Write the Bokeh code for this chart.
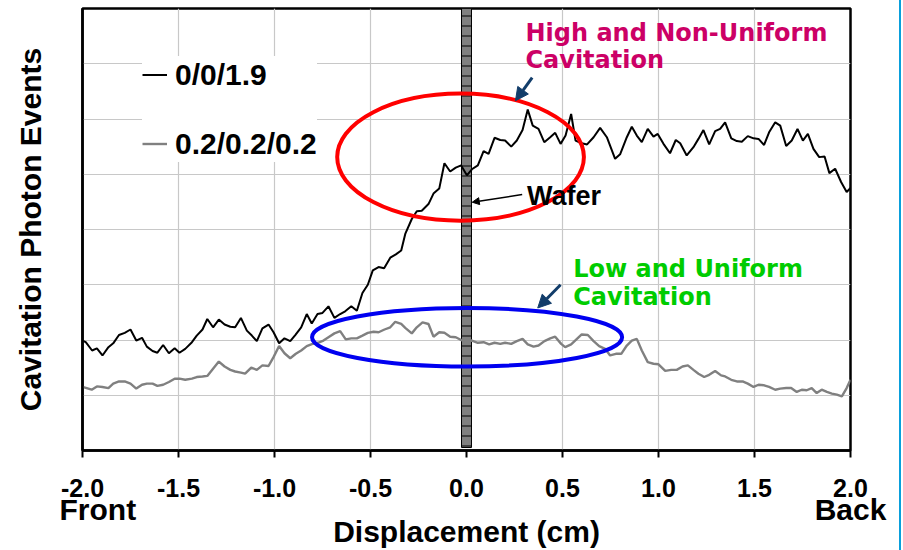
from bokeh.plotting import figure
from bokeh.models import (Range1d, FixedTicker, Legend, LegendItem, Label, Arrow,
                          NormalHead, LinearAxis)
from bokeh.embed import file_html
from bokeh.resources import INLINE

# ---------------- data ----------------
high_x = [-2.000, -1.983, -1.950, -1.925, -1.896, -1.865, -1.840, -1.810, -1.780, -1.750,
          -1.720, -1.690, -1.665, -1.635, -1.610, -1.580, -1.550, -1.520, -1.495, -1.465,
          -1.430, -1.405, -1.375, -1.350, -1.320, -1.290, -1.260, -1.230, -1.205, -1.175,
          -1.144, -1.118, -1.092, -1.063, -1.031, -1.005, -0.976, -0.948, -0.918, -0.892,
          -0.861, -0.832, -0.806, -0.776, -0.750, -0.719, -0.688, -0.658, -0.632, -0.600,
          -0.571, -0.542, -0.514, -0.488, -0.458, -0.429, -0.397, -0.368, -0.340, -0.319,
          -0.285, -0.259, -0.233, -0.198, -0.172, -0.142, -0.115, -0.085, -0.056, -0.028,
          0.002, 0.028, 0.059, 0.089, 0.115, 0.146, 0.176, 0.201, 0.233, 0.262,
          0.292, 0.319, 0.345, 0.375, 0.405, 0.436, 0.462, 0.490, 0.516, 0.545,
          0.568, 0.600, 0.628, 0.662, 0.696, 0.731, 0.774, 0.800, 0.835, 0.861,
          0.887, 0.913, 0.944, 0.974, 0.996, 1.026, 1.060, 1.090, 1.113, 1.147,
          1.182, 1.208, 1.234, 1.264, 1.295, 1.321, 1.347, 1.379, 1.408, 1.434,
          1.465, 1.495, 1.521, 1.550, 1.576, 1.608, 1.634, 1.665, 1.694, 1.724,
          1.752, 1.778, 1.807, 1.837, 1.865, 1.890, 1.920, 1.951, 1.980, 2.000]
high_y = [1.99, 1.96, 1.81, 1.85, 1.72, 1.87, 1.94, 2.09, 2.13, 2.19,
          1.99, 2.04, 1.88, 1.80, 1.77, 1.91, 1.76, 1.85, 1.77, 1.84,
          1.96, 2.08, 2.19, 2.38, 2.23, 2.37, 2.28, 2.24, 2.23, 2.40,
          2.17, 2.08, 1.98, 2.21, 2.28, 2.14, 1.94, 2.03, 1.98, 2.09,
          2.23, 2.47, 2.30, 2.47, 2.49, 2.61, 2.40, 2.47, 2.52, 2.61,
          2.53, 2.85, 3.00, 3.26, 3.32, 3.30, 3.49, 3.55, 3.62, 3.92,
          4.19, 4.33, 4.34, 4.46, 4.65, 4.74, 5.20, 5.05, 5.12, 5.16,
          4.98, 5.09, 5.16, 5.42, 5.37, 5.66, 5.62, 5.61, 5.50, 5.61,
          5.80, 6.17, 5.88, 5.82, 5.58, 5.67, 5.75, 5.55, 5.70, 6.09,
          5.61, 5.56, 5.54, 5.67, 5.84, 5.67, 5.28, 5.36, 5.67, 5.86,
          5.70, 5.58, 5.82, 5.68, 5.73, 5.55, 5.38, 5.62, 5.56, 5.34,
          5.49, 5.64, 5.80, 5.54, 5.78, 5.82, 5.94, 5.65, 5.60, 5.59,
          5.69, 5.65, 5.64, 5.53, 5.76, 5.94, 5.88, 5.51, 5.61, 5.82,
          5.61, 5.73, 5.46, 5.31, 5.32, 5.02, 5.10, 4.86, 4.68, 4.75]

low_x = [-2.000, -1.978, -1.952, -1.925, -1.896, -1.865, -1.840, -1.810, -1.780, -1.750,
         -1.720, -1.690, -1.665, -1.635, -1.610, -1.580, -1.550, -1.520, -1.495, -1.465,
         -1.430, -1.405, -1.375, -1.350, -1.320, -1.290, -1.260, -1.230, -1.205, -1.175,
         -1.153, -1.121, -1.092, -1.063, -1.031, -1.005, -0.976, -0.948, -0.918, -0.889,
         -0.861, -0.832, -0.802, -0.774, -0.745, -0.715, -0.688, -0.658, -0.629, -0.600,
         -0.571, -0.542, -0.514, -0.484, -0.458, -0.427, -0.397, -0.371, -0.340, -0.319,
         -0.285, -0.259, -0.229, -0.198, -0.172, -0.142, -0.115, -0.085, -0.056, -0.028,
         0.002, 0.028, 0.059, 0.089, 0.118, 0.146, 0.176, 0.201, 0.233, 0.262,
         0.292, 0.319, 0.349, 0.375, 0.406, 0.436, 0.462, 0.493, 0.514, 0.545,
         0.600, 0.632, 0.662, 0.691, 0.722, 0.748, 0.778, 0.806, 0.835, 0.861,
         0.887, 0.913, 0.944, 0.974, 1.000, 1.035, 1.066, 1.095, 1.125, 1.153,
         1.182, 1.208, 1.238, 1.264, 1.295, 1.326, 1.347, 1.379, 1.408, 1.438,
         1.465, 1.495, 1.521, 1.550, 1.576, 1.608, 1.634, 1.665, 1.691, 1.720,
         1.746, 1.772, 1.798, 1.824, 1.850, 1.877, 1.903, 1.929, 1.955, 1.980, 2.000]
low_y = [1.15, 1.13, 1.10, 1.16, 1.15, 1.13, 1.21, 1.25, 1.25, 1.21,
         1.12, 1.19, 1.21, 1.21, 1.17, 1.19, 1.24, 1.30, 1.30, 1.28,
         1.30, 1.33, 1.34, 1.35, 1.48, 1.61, 1.52, 1.46, 1.43, 1.41,
         1.39, 1.50, 1.46, 1.54, 1.53, 1.69, 1.89, 1.76, 1.67, 1.75,
         1.81, 1.89, 1.93, 1.95, 1.99, 2.06, 2.12, 2.16, 2.01, 2.03,
         2.03, 2.08, 2.13, 2.15, 2.14, 2.19, 2.23, 2.33, 2.29, 2.22,
         2.12, 2.23, 2.32, 2.29, 2.06, 2.14, 2.13, 2.06, 2.05, 2.00,
         1.98, 1.99, 1.95, 1.96, 1.92, 1.95, 1.93, 1.95, 1.93, 1.98,
         2.02, 1.92, 1.88, 1.90, 1.98, 2.03, 2.06, 1.93, 1.87, 1.92,
         2.10, 2.09, 1.98, 1.89, 1.84, 1.72, 1.75, 1.75, 1.90, 1.99,
         2.02, 1.81, 1.60, 1.57, 1.56, 1.44, 1.46, 1.46, 1.52, 1.54,
         1.46, 1.39, 1.33, 1.37, 1.44, 1.36, 1.34, 1.28, 1.25, 1.25,
         1.21, 1.15, 1.19, 1.18, 1.15, 1.10, 1.12, 1.13, 1.13, 1.06,
         1.10, 1.09, 1.13, 1.04, 1.10, 1.06, 1.03, 1.01, 0.98, 1.13, 1.28]

series_labels = ["0/0/1.9", "0.2/0.2/0.2"]
x_ticks = [-2.0, -1.5, -1.0, -0.5, 0.0, 0.5, 1.0, 1.5, 2.0]
x_tick_labels = ["-2.0", "-1.5", "-1.0", "-0.5", "0.0", "0.5", "1.0", "1.5", "2.0"]
end_ticks = [-1.92, 2.0]
end_labels = ["Front", "Back"]
y_grid = [1, 2, 3, 4, 5, 6, 7]

assert len(high_x) == len(high_y), (len(high_x), len(high_y))
assert len(low_x) == len(low_y), (len(low_x), len(low_y))

# ---------------- figure ----------------
AX_FONT = "Liberation Sans"
p = figure(width=901, height=550, x_range=Range1d(-2, 2), y_range=Range1d(0, 8),
           output_backend="svg", toolbar_location=None,
           min_border_left=82, min_border_right=51, min_border_top=8, min_border_bottom=100)
p.background_fill_color = "white"
p.border_fill_color = "white"
p.outline_line_color = "black"
p.outline_line_width = 2.5
p.styles = {"border-right": "2px solid #0A9FDB"}

# main x axis: ticks and numbers
p.xaxis.ticker = FixedTicker(ticks=x_ticks)
p.xaxis.major_label_overrides = {t: l for t, l in zip(x_ticks, x_tick_labels)}
p.xaxis.axis_line_width = 2.5
p.xaxis.major_tick_out = 7
p.xaxis.major_tick_in = 0
p.xaxis.major_tick_line_width = 2
p.xaxis.minor_tick_line_color = None
p.xaxis.major_label_text_font = AX_FONT
p.xaxis.major_label_text_font_style = "bold"
p.xaxis.major_label_text_font_size = "25px"
p.xaxis.major_label_text_color = "black"
p.xaxis.major_label_standoff = 21

# second x axis: Front / Back and the axis title
ax2 = LinearAxis(ticker=FixedTicker(ticks=end_ticks),
                 major_label_overrides={t: l for t, l in zip(end_ticks, end_labels)},
                 axis_line_color=None, major_tick_line_color=None,
                 minor_tick_line_color=None, major_tick_out=0, major_tick_in=0,
                 major_label_standoff=-7,
                 major_label_text_font=AX_FONT, major_label_text_font_style="bold",
                 major_label_text_font_size="30px", major_label_text_color="black",
                 axis_label="Displacement (cm)", axis_label_standoff=-14,
                 axis_label_text_font=AX_FONT, axis_label_text_font_style="bold",
                 axis_label_text_font_size="30px", axis_label_text_color="black")
p.add_layout(ax2, "below")

p.yaxis.ticker = FixedTicker(ticks=[])
p.yaxis.axis_label = "Cavitation Photon Events"
p.yaxis.axis_line_width = 2.5
p.yaxis.major_tick_out = 0
p.yaxis.major_tick_in = 0
p.yaxis.minor_tick_line_color = None
p.yaxis.major_label_standoff = 0
p.yaxis.axis_label_text_font = AX_FONT
p.yaxis.axis_label_text_font_style = "bold"
p.yaxis.axis_label_text_font_size = "30px"
p.yaxis.axis_label_text_color = "black"
p.yaxis.axis_label_standoff = 36

p.xgrid.ticker = FixedTicker(ticks=[-1.5, -1.0, -0.5, 0.5, 1.0, 1.5])
p.ygrid.ticker = FixedTicker(ticks=y_grid)
for g in (p.xgrid, p.ygrid):
    g.grid_line_color = "#C8C8C8"
    g.grid_line_width = 1.2

# wafer
WAFER_HALF = 0.026
WAFER_BOTTOM = 0.054
p.quad(left=[-WAFER_HALF], right=[WAFER_HALF], bottom=[WAFER_BOTTOM], top=[8],
       fill_color="#808080", line_color="black", line_width=1,
       hatch_pattern="horizontal_line", hatch_scale=10, hatch_color="black",
       hatch_weight=1)

# series
r_high = p.line(high_x, high_y, line_color="black", line_width=2)
r_low = p.line(low_x, low_y, line_color="#808080", line_width=2.4)

# ellipses
p.ellipse(x=[-0.031], y=[5.31], width=[1.285], height=[2.30],
          fill_color=None, line_color="#FF0000", line_width=4)
p.ellipse(x=[0.003], y=[2.05], width=[1.615], height=[1.06],
          fill_color=None, line_color="#0000F0", line_width=4)

# arrows
NAVY = "#123D6A"
p.add_layout(Arrow(x_start=0.342, y_start=6.75, x_end=0.255, y_end=6.33,
                   line_color=NAVY, line_width=3,
                   end=NormalHead(size=13, fill_color=NAVY, line_color=NAVY)))
p.add_layout(Arrow(x_start=0.490, y_start=3.00, x_end=0.371, y_end=2.58,
                   line_color=NAVY, line_width=3,
                   end=NormalHead(size=13, fill_color=NAVY, line_color=NAVY)))
p.add_layout(Arrow(x_start=0.290, y_start=4.633, x_end=0.030, y_end=4.494,
                   line_color="black", line_width=1.5,
                   end=NormalHead(size=7, fill_color="black", line_color="black")))

# annotation texts
ANN_FONT = "DejaVu Sans"
def lab(x, y, text, color, size, font):
    p.add_layout(Label(x=x, y=y, text=text, text_color=color, text_font=font,
                       text_font_style="bold", text_font_size=size,
                       text_baseline="alphabetic", text_align="left"))

lab(0.307, 7.56, "High and Non-Uniform", "#CC0066", "24px", ANN_FONT)
lab(0.307, 7.06, "Cavitation", "#CC0066", "24px", ANN_FONT)
lab(0.556, 3.29, "Low and Uniform", "#00CC00", "24px", ANN_FONT)
lab(0.556, 2.78, "Cavitation", "#00CC00", "24px", ANN_FONT)
lab(0.315, 4.60, "Wafer", "black", "27px", AX_FONT)

# legend
legend = Legend(items=[LegendItem(label=series_labels[0], renderers=[r_high]),
                       LegendItem(label=series_labels[1], renderers=[r_low])],
                location=(60, 288), orientation="vertical",
                border_line_color=None, background_fill_color="white",
                background_fill_alpha=1.0, padding=17, spacing=32, margin=0,
                glyph_width=25, glyph_height=37, label_height=37, label_standoff=8,
                label_text_font=AX_FONT, label_text_font_style="bold",
                label_text_font_size="30px", label_text_color="black")
p.add_layout(legend)

open("out.html", "w").write(file_html(p, INLINE))
